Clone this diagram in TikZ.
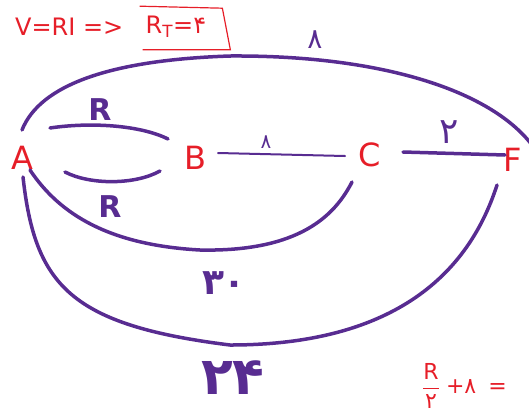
\documentclass[tikz,border=0pt]{standalone}
\usepackage{amsmath}
\usepackage{fontspec}
\setmainfont{DejaVu Sans}
\newfontfamily\arabicfont[Script=Arabic]{DejaVu Sans}
\usetikzlibrary{positioning}
\definecolor{ink}{RGB}{88,44,145}
\definecolor{pen}{RGB}{230,30,40}
\tikzset{
	vertex/.style={text=pen,font=\fontsize{32}{32}\selectfont,inner sep=2pt},
	wire/.style={draw=ink,line width=3.5pt,line cap=round},
	weight/.style={text=ink,font=\fontsize{30}{30}\selectfont\bfseries,inner sep=0pt},
	digit/.style={text=ink,inner sep=0pt},
	note/.style={text=pen,font=\fontsize{24}{24}\selectfont,inner sep=0pt},
	frame/.style={draw=pen,line width=1.2pt}
}
\begin{document}
\begin{tikzpicture}[x=1pt,y=-1pt]
		\useasboundingbox (0,0) rectangle (529,413);
		
		\node[vertex] (A) at (22,158) {A};
		\node[vertex] (B) at (195,158) {B};
		\node[vertex] (C) at (370,155) {C};
		\node[vertex] (F) at (513,160) {F};
		
		\draw[wire] ([shift={(0,-28)}]A.center)
		.. controls (40,85) and (110,60) .. (230,56)
		.. controls (380,55) and (490,90) .. ([shift={(19,-15)}]F.center);
		\draw[wire] ([shift={(28,-30)}]A.center)
		.. controls (90,122) and (140,125) .. ([shift={(-27,-19)}]B.center);
		\draw[wire] ([shift={(43,14)}]A.center)
		.. controls (90,185) and (135,185) .. ([shift={(-35,13)}]B.center);
		\draw[wire,line width=2pt] ([shift={(23,-5)}]B.center) -- ([shift={(-25,1)}]C.center);
		\draw[wire] ([shift={(33,-3)}]C.center) -- ([shift={(-8,-5)}]F.center);
		\draw[wire] ([shift={(8,12)}]A.center)
		.. controls (60,215) and (110,245) .. (200,250)
		.. controls (300,252) and (335,215) .. ([shift={(-18,27)}]C.center);
		\draw[wire] ([shift={(1,19)}]A.center)
		.. controls (35,285) and (70,325) .. (230,345)
		.. controls (360,345) and (460,300) .. ([shift={(-16,25)}]F.center);
		
		\node[digit,font=\fontsize{28}{28}\selectfont\arabicfont] (wAF) at (315,40) {۸};
		\node[weight] (wABup) at (100,110) {R};
		\node[weight] (wABlo) at (110,207) {R};
		\node[digit,font=\fontsize{20}{20}\selectfont\arabicfont] (wBC) at (266,142) {۸};
		\node[digit,font=\fontsize{36}{36}\selectfont\arabicfont] (wCF) at (449,132) {۲};
		\node[digit,font=\fontsize{36}{36}\selectfont\arabicfont\bfseries] (wAC) at (224,283) {۳۰};
		\node[digit,font=\fontsize{52}{52}\selectfont\arabicfont\bfseries] (wAFlo) at (233,378) {۲۴};
		
		\node[note,anchor=west] (ohm) at (15,27) {V=RI =>};
		\node[note,right=22pt of ohm] (total) {R\textsubscript{T}={\arabicfont ۴}};
		\draw[frame] ([shift={(-6,-10)}]total.north west)
		-- ([shift={(16,-8)}]total.north east)
		-- ([shift={(24,12)}]total.south east)
		-- ([shift={(-3,12)}]total.south west);
		
		\node[note,anchor=west,font=\fontsize{22}{22}\selectfont] (sum) at (422,386)
		{$\dfrac{\hbox{R}}{\hbox{\arabicfont ۲}}$\;+{\arabicfont ۸}\;\;=};
		
	\end{tikzpicture}
\end{document}
